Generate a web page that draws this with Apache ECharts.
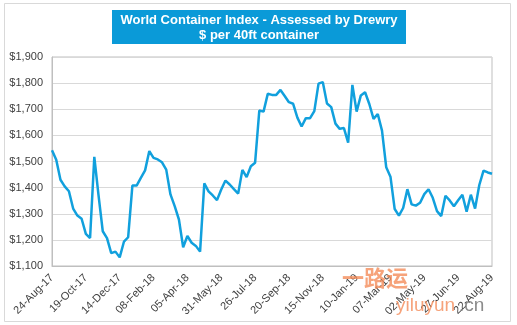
<!DOCTYPE html>
<html>
<head>
<meta charset="utf-8">
<script src="https://cdn.jsdelivr.net/npm/echarts@6/dist/echarts.min.js"></script>
<style>
html,body{margin:0;padding:0;background:#fff;}
#chart{width:517px;height:325px;}
</style>
</head>
<body>
<div id="chart"></div>
<script>
// ---- data ----
const titleLine1 = 'World Container Index - Assessed by Drewry';
const titleLine2 = '$ per 40ft container';
const startDate = '2017-08-24'; // weekly series start
const weeks = 105;
const wciValues = [
  1543,1507,1430,1405,1386,1320,1293,1281,1223,1207,
  1518,1370,1233,1207,1149,1155,1133,1193,1210,1408,
  1408,1437,1466,1540,1514,1508,1497,1469,1374,1329,
  1278,1172,1215,1189,1177,1155,1416,1386,1370,1352,
  1393,1427,1412,1394,1377,1468,1440,1482,1495,1695,
  1691,1759,1755,1755,1774,1751,1727,1721,1668,1634,
  1666,1666,1693,1798,1804,1722,1708,1645,1625,1628,
  1572,1793,1691,1753,1765,1720,1663,1682,1618,1478,
  1442,1318,1293,1322,1394,1336,1331,1342,1375,1394,
  1361,1310,1291,1369,1351,1329,1352,1373,1308,1373,
  1320,1410,1465,1458,1453
];
const yMin = 1100, yMax = 1900, yStep = 100;
const watermarkCN = '一路运';
const watermarkEN = 'yiluyun';
const watermarkTLD = '.cn';

// weekly category labels, e.g. 24-Aug-17
const MONTHS = ['Jan','Feb','Mar','Apr','May','Jun','Jul','Aug','Sep','Oct','Nov','Dec'];
const categories = [];
{
  const d0 = new Date(startDate + 'T00:00:00Z');
  for (let i = 0; i < weeks; i++) {
    const d = new Date(d0.getTime() + i * 7 * 86400000);
    const dd = String(d.getUTCDate()).padStart(2, '0');
    const yy = String(d.getUTCFullYear() % 100).padStart(2, '0');
    categories.push(dd + '-' + MONTHS[d.getUTCMonth()] + '-' + yy);
  }
}

const chart = echarts.init(document.getElementById('chart'), null, {renderer: 'canvas'});
const font = '"Liberation Sans", Arial, sans-serif';
chart.setOption({
  animation: false,
  backgroundColor: '#ffffff',
  grid: {left: 52, right: 25, top: 57, bottom: 59, show: true, borderColor: '#bfbfbf', borderWidth: 1, backgroundColor: 'transparent'},
  xAxis: {
    type: 'category',
    data: categories,
    boundaryGap: false,
    axisLine: {lineStyle: {color: '#bfbfbf'}},
    axisTick: {show: false},
    splitLine: {show: false},
    axisLabel: {interval: 7, rotate: 45, margin: 10, color: '#404040', fontSize: 11, fontFamily: font}
  },
  yAxis: {
    type: 'value',
    min: yMin, max: yMax, interval: yStep,
    axisLine: {show: true, lineStyle: {color: '#bfbfbf'}},
    axisTick: {show: false},
    splitLine: {lineStyle: {color: '#d9d9d9', width: 1}},
    axisLabel: {margin: 9, color: '#404040', fontSize: 11, fontFamily: font,
      formatter: v => '$' + v.toLocaleString('en-US')}
  },
  series: [{
    type: 'line',
    data: wciValues,
    showSymbol: false,
    lineStyle: {color: '#11a0dd', width: 2.5},
    itemStyle: {color: '#11a0dd'}
  }],
  graphic: [
    {type: 'rect', shape: {x: 4.5, y: 3.5, width: 506, height: 318}, style: {fill: 'none', stroke: '#d9d9d9', lineWidth: 1}, z: -1},
    {type: 'rect', shape: {x: 112, y: 10, width: 294, height: 34}, style: {fill: '#0a9ad8'}},
    {type: 'text', x: 259, y: 20, style: {text: titleLine1, fill: '#ffffff', font: 'bold 13px ' + font, textAlign: 'center', textVerticalAlign: 'middle'}},
    {type: 'text', x: 259, y: 35, style: {text: titleLine2, fill: '#ffffff', font: 'bold 13px ' + font, textAlign: 'center', textVerticalAlign: 'middle'}},
    {type: 'text', x: 342, y: 278, style: {text: watermarkCN, fill: 'rgba(244,140,90,0.8)', font: 'bold 22px "Noto Sans CJK SC", sans-serif', textVerticalAlign: 'middle'}, z: 10},
    {type: 'text', x: 396, y: 306, style: {text: watermarkEN, fill: 'rgba(244,140,90,0.8)', font: '19px ' + font, textVerticalAlign: 'middle'}, z: 10},
    {type: 'text', x: 459, y: 306, style: {text: watermarkTLD, fill: 'rgba(110,110,110,0.8)', font: '19px ' + font, textVerticalAlign: 'middle'}, z: 10}
  ]
});
</script>
</body>
</html>
